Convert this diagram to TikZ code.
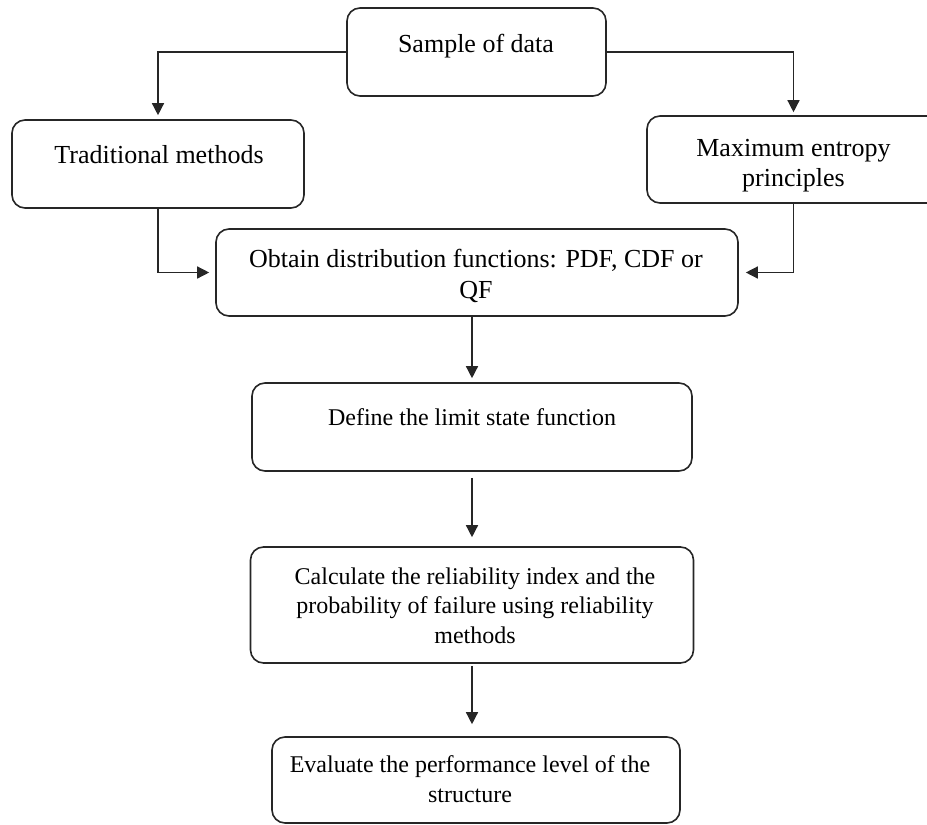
\documentclass[tikz,border=0pt]{standalone}
\usepackage{fontspec}
\setmainfont{Liberation Serif}
\usetikzlibrary{arrows.meta}
\begin{document}
\begin{tikzpicture}[x=1pt,y=-1pt,
  box/.style={draw=black!85, line width=1.6pt, rounded corners=13pt, inner sep=0pt, fill=none},
  txt/.style={anchor=base, align=center, inner sep=0pt, font=\fontsize{26}{30.5}\selectfont},
  stxt/.style={txt, font=\fontsize{24}{29.5}\selectfont},
  arr/.style={draw=black!85, line width=1.4pt, -{Triangle[length=12pt,width=12pt]}}]
\useasboundingbox (0,0) rectangle (927,825);
\clip (0,0) rectangle (927,825);
% boxes
\node[box, minimum width=259pt, minimum height=88pt] (sample) at (476.5,52) {};
\node[box, minimum width=292pt, minimum height=88pt] (trad) at (158,164) {};
\node[box, minimum width=293pt, minimum height=87pt] (maxent) at (793.5,159.5) {};
\node[box, minimum width=522pt, minimum height=87pt] (obtain) at (477,272.5) {};
\node[box, minimum width=440pt, minimum height=88pt] (define) at (472,427) {};
\node[box, minimum width=443pt, minimum height=116pt] (calc) at (472,605) {};
\node[box, minimum width=408pt, minimum height=86pt] (eval) at (476,780) {};
% texts (base anchor = baseline of the last line)
\node[txt] (tsample) at (476,52) {Sample of data};
\node[txt] (ttrad) at (159,163) {Traditional methods};
\node[txt] (tmax) at (793.5,186.5) {Maximum entropy\\principles};
\node[txt] (tobtain) at (476,298) {Obtain distribution functions: PDF, CDF or\\QF};
\node[stxt] (tdefine) at (472,425) {Define the limit state function};
\node[stxt] (tcalc) at (475,643) {Calculate the reliability index and the\\probability of failure using reliability\\methods};
\node[stxt] (teval) at (470,802) {Evaluate the performance level of the\\structure};
% connectors
\draw[arr, shorten >=4pt] (sample.west) -| (trad.north);
\draw[arr, shorten >=3pt] (sample.east) -| (maxent.north);
\draw[arr, shorten >=6pt] (trad.south) |- (obtain.west);
\draw[arr, shorten >=7pt] (maxent.south) |- (obtain.east);
\draw[arr, shorten >=4pt] (obtain.south -| define.north) -- (define.north);
\draw[arr, shorten <=6pt, shorten >=9pt] (define.south) -- (define.south |- calc.north);
\draw[arr, shorten <=2pt, shorten >=12pt] (calc.south) -- (calc.south |- eval.north);
\end{tikzpicture}
\end{document}
